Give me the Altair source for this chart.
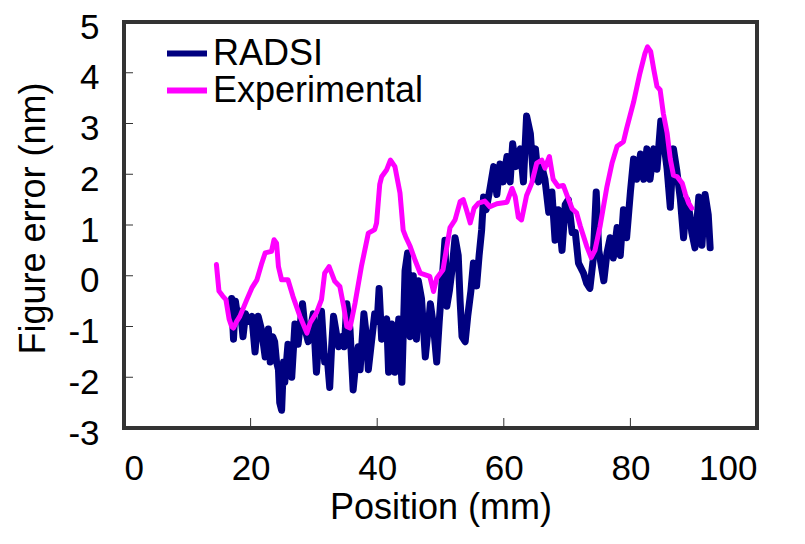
import altair as alt
import pandas as pd

# RADSI (navy, noisy)
radsi_x = [17.0, 17.3, 17.6, 18.0, 18.4, 18.8, 19.2, 19.6, 20.2, 20.7, 21.2, 21.7, 22.3, 22.8, 23.1,
           23.5, 23.8, 24.1, 24.4, 24.6, 24.9, 25.2, 25.4, 25.9, 26.2, 26.5, 27.0, 27.5, 28.2, 28.6,
           29.1, 29.5, 29.9, 30.4, 30.8, 31.2, 31.7, 32.1, 32.5, 32.8, 33.1, 33.5, 33.9, 34.4, 34.8,
           35.2, 35.7, 36.2, 36.7, 37.0, 37.3, 37.6, 37.9, 38.3, 38.6, 39.1, 39.6, 40.0, 40.3, 40.7,
           41.1, 41.5, 41.8, 42.3, 42.8, 43.4, 43.9, 44.4, 44.8, 45.2, 45.7, 46.2, 46.5, 47.0, 47.6,
           48.0, 48.4, 48.9, 49.4, 49.8, 50.2, 50.7, 51.0, 51.4, 51.8, 52.3, 52.8, 53.1, 53.4, 53.9,
           54.3, 54.8, 55.2, 55.7, 56.1, 56.5, 56.8, 57.2, 57.8, 58.4, 58.9, 59.4, 59.9, 60.5, 61.0,
           61.4, 61.9, 62.6, 63.1, 63.6, 64.2, 64.7, 65.0, 65.5, 66.0, 66.5, 67.1, 67.6, 68.1, 68.6,
           69.2, 69.7, 70.2, 70.8, 71.3, 71.8, 72.6, 73.1, 73.6, 74.1, 74.6, 75.0, 75.8, 76.3, 76.8,
           77.3, 77.9, 78.4, 78.9, 79.4, 80.0, 80.5, 81.0, 81.6, 82.1, 82.6, 83.1, 83.7, 84.2, 84.8,
           85.3, 85.8, 86.3, 86.8, 87.3, 87.9, 88.4, 88.9, 89.4, 89.7, 90.2, 90.8, 91.3, 91.8, 92.3, 92.6]
radsi_y = [-0.45, -1.25, -0.5, -0.85, -0.7, -1.2, -0.75, -0.9, -0.8, -1.5, -0.8, -1.05, -1.6, -1.05, -1.7,
           -1.2, -1.3, -1.7, -1.85, -2.5, -2.65, -1.7, -2.1, -1.35, -1.6, -2.0, -0.95, -1.35, -0.55, -1.05,
           -1.3, -1.0, -0.75, -1.9, -1.2, -0.7, -1.7, -1.6, -2.2, -1.4, -0.8, -1.1, -1.4, -1.2, -1.4,
           -0.55, -1.05, -2.25, -1.6, -1.4, -1.85, -1.3, -0.75, -1.2, -1.85, -1.3, -0.75, -0.9, -0.25, -1.25,
           -0.95, -0.85, -1.9, -0.95, -1.9, -0.85, -2.1, 0.1, 0.45, -1.2, 0.0, -1.25, -0.1, -0.45, -1.6,
           -1.1, -0.55, -1.0, -1.7, -0.9, -0.2, 0.7, -0.6, -0.3, 0.1, 0.75, 0.4, -0.5, -1.2, -1.3,
           -0.8, -0.3, 0.25, -0.2, 0.4, 0.9, 1.55, 1.3, 1.7, 2.15, 1.6, 2.2, 1.85, 2.35, 1.85,
           2.6, 2.15, 2.5, 1.85, 3.15, 2.8, 1.9, 2.5, 1.85, 2.15, 1.9, 1.25, 1.65, 0.7, 1.3,
           0.5, 1.4, 1.5, 0.85, 0.85, 0.25, 0.05, -0.15, -0.25, 0.3, 1.65, 0.5, -0.1, 0.45, 0.75,
           0.35, 0.95, 0.4, 1.3, 0.75, 1.65, 2.3, 1.9, 2.4, 1.9, 2.5, 1.9, 2.5, 2.1, 3.05,
           2.6, 2.1, 1.35, 2.5, 2.1, 1.5, 0.75, 1.5, 1.2, 0.85, 0.55, 1.55, 0.6, 1.6, 1.2, 0.55]

# Experimental (magenta, smooth)
exp_x = [14.6, 15.0, 15.6, 16.1, 16.6, 17.0, 17.3, 17.8, 18.3, 19.4, 20.2, 21.0, 21.7, 22.3, 23.3,
         23.7, 24.1, 24.4, 24.9, 25.9, 26.7, 27.8, 28.9, 29.4, 30.4, 31.2, 31.7, 32.4, 33.3, 34.1,
         34.7, 35.2, 35.7, 36.5, 37.5, 38.6, 39.6, 39.9, 40.2, 40.4, 40.7, 41.5, 42.1, 42.8, 43.6,
         44.1, 44.5, 45.2, 46.0, 46.8, 48.3, 48.9, 49.4, 50.4, 51.5, 52.3, 53.1, 53.6, 54.1, 54.7,
         55.3, 56.0, 57.0, 57.8, 58.9, 60.5, 61.3, 61.8, 62.3, 62.8, 63.6, 64.4, 65.2, 66.0, 66.5,
         67.2, 67.8, 68.6, 69.4, 70.0, 70.8, 71.5, 72.1, 73.1, 73.8, 74.4, 75.2, 76.3, 77.1, 77.9,
         78.9, 79.4, 80.5, 81.5, 82.3, 82.7, 83.2, 83.7, 84.2, 84.7, 85.2, 85.8, 86.3, 86.8, 87.4,
         88.2, 88.7, 89.2, 89.7]
exp_y = [0.22, -0.3, -0.4, -0.47, -0.85, -1.0, -1.03, -0.9, -0.8, -0.47, -0.24, -0.08, 0.22, 0.45, 0.48,
         0.71, 0.64, 0.18, -0.08, -0.08, -0.41, -0.8, -1.13, -0.93, -0.73, -0.47, 0.05, 0.18, -0.11, -0.21,
         -0.6, -1.0, -1.03, -0.54, 0.18, 0.84, 0.91, 1.04, 1.5, 1.8, 1.95, 2.09, 2.28, 2.15, 1.63,
         0.9, 0.77, 0.58, 0.3, 0.05, -0.01, -0.31, -0.05, 0.12, 0.95, 1.1, 1.46, 1.5, 1.3, 1.04,
         1.33, 1.43, 1.47, 1.36, 1.42, 1.45, 1.72, 1.56, 1.15, 1.1, 1.58, 1.82, 2.22, 2.28, 2.12,
         2.35, 1.9, 1.76, 1.78, 1.58, 1.32, 1.24, 0.97, 0.58, 0.36, 0.5, 0.97, 1.76, 2.22, 2.55,
         2.64, 2.9, 3.42, 3.99, 4.38, 4.51, 4.42, 4.06, 3.73, 3.66, 3.2, 2.81, 2.3, 1.98, 1.95,
         1.82, 1.6, 1.43, 1.33]

series_names = ["RADSI", "Experimental"]
series_colors = ["#000080", "#FF00FF"]
x_ticks = [0, 20, 40, 60, 80, 100]
y_ticks = [-3, -2, -1, 0, 1, 2, 3, 4, 5]

radsi_df = pd.DataFrame({"x": radsi_x, "y": radsi_y, "series": "RADSI"})
exp_df = pd.DataFrame({"x": exp_x, "y": exp_y, "series": "Experimental"})
ytick_df = pd.DataFrame({"y": y_ticks[1:-1]})
xtick_df = pd.DataFrame({"x": x_ticks[1:-1]})

FONT = "Helvetica, Liberation Sans, Arial, sans-serif"
xscale = alt.Scale(domain=[0, 100], nice=False, zero=False)
yscale = alt.Scale(domain=[-3, 5], nice=False, zero=False)
cscale = alt.Scale(domain=series_names, range=series_colors)

xaxis = alt.Axis(values=x_ticks, ticks=False, domain=False, grid=False, labelFontSize=35,
                 labelPadding=23, title="Position (mm)", titleFontSize=36, titleFontWeight="normal",
                 titlePadding=4, labelColor="black", titleColor="black",
                 labelExpr="'' + datum.value")
yaxis = alt.Axis(values=y_ticks, ticks=False, domain=False, grid=False, labelFontSize=35,
                 labelPadding=25, labelOffset=5, title="Figure error (nm)", titleFontSize=36,
                 titleFontWeight="normal", titleX=-72, titleY=196, labelColor="black", titleColor="black",
                 labelExpr="'' + datum.value")

legend = alt.Legend(title=None, orient="none", legendX=40, legendY=14, symbolType="stroke",
                    symbolSize=1600, symbolStrokeWidth=6, labelFontSize=36, labelOffset=3,
                    labelLimit=500, clipHeight=35, rowPadding=0, padding=0, labelColor="black")

X = alt.X("x:Q", scale=xscale, axis=xaxis)
Y = alt.Y("y:Q", scale=yscale, axis=yaxis)
C = alt.Color("series:N", scale=cscale, legend=legend, sort=series_names)

radsi_line = alt.Chart(radsi_df).mark_line(strokeWidth=7, strokeJoin="round", strokeCap="round").encode(x=X, y=Y, color=C)
exp_line = alt.Chart(exp_df).mark_line(strokeWidth=5, strokeJoin="round", strokeCap="round").encode(x=X, y=Y, color=C)

ytick_marks = alt.Chart(ytick_df).mark_rule(color="#333333", strokeWidth=1).encode(
    y=Y, x=alt.value(0), x2=alt.value(9))
xtick_marks = alt.Chart(xtick_df).mark_rule(color="#333333", strokeWidth=1).encode(
    x=X, y=alt.value(406), y2=alt.value(396))

chart = alt.layer(radsi_line, exp_line, ytick_marks, xtick_marks).properties(
    width=633, height=406,
    autosize=alt.AutoSizeParams(type="none"),
    padding={"left": 116, "top": 14, "right": 40, "bottom": 100},
).configure(
    font=FONT, background="white",
    view=alt.ViewConfig(stroke="#333333", strokeWidth=4),
)

chart.save("out.html", embed_options={"renderer": "svg", "actions": False})
